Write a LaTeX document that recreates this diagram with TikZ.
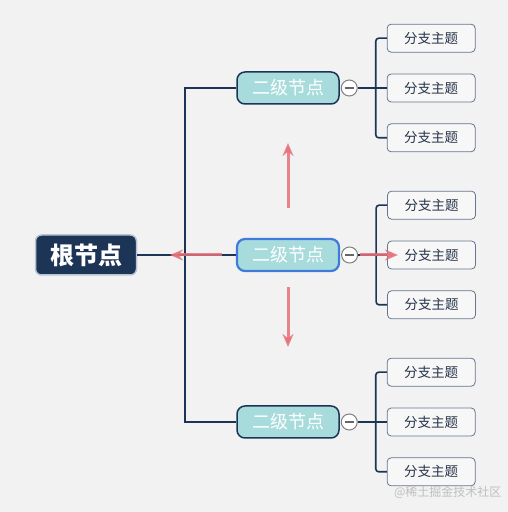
\documentclass[tikz,border=0pt]{standalone}
\usepackage{fontspec}
\setmainfont{Noto Sans CJK SC}
\usetikzlibrary{arrows.meta,positioning}
\definecolor{bgcol}{HTML}{F2F2F2}
\definecolor{navy}{HTML}{1C3557}
\definecolor{rootrim}{HTML}{B8C4D2}
\definecolor{tealfill}{HTML}{A8DCDC}
\definecolor{focus}{HTML}{3E7BDA}
\definecolor{leafrim}{HTML}{66758E}
\definecolor{leaftext}{HTML}{26344A}
\definecolor{arrowred}{HTML}{E8707A}
\tikzset{
  rootnode/.style={
    draw=rootrim,line width=1.5pt,fill=navy,rounded corners=6pt,
    minimum width=101pt,minimum height=40pt,text=white,
    font=\bfseries\fontsize{24}{26}\selectfont
  },
  subnode/.style={
    draw=navy,line width=1.5pt,fill=tealfill,rounded corners=8pt,
    minimum width=102pt,minimum height=32pt,text=white,
    font=\fontsize{18}{20}\selectfont
  },
  leafnode/.style={
    draw=leafrim,line width=0.8pt,fill=bgcol!60!white,rounded corners=4pt,
    minimum width=88pt,minimum height=28pt,text=leaftext,
    font=\fontsize{13.5}{15}\selectfont
  },
  fold/.style={
    circle,draw=gray,line width=1pt,fill=white,minimum size=16pt,inner sep=0pt,
    path picture={\draw[gray!80!black,line width=1.2pt]
      ([xshift=3.5pt]path picture bounding box.west) --
      ([xshift=-3.5pt]path picture bounding box.east);}
  },
  link/.style={draw=navy,line width=1.6pt},
  move/.style={draw=arrowred,opacity=0.85,line width=3pt,-{Stealth[length=13pt,width=11pt]}}
}
\begin{document}
\begin{tikzpicture}[x=1pt,y=1pt]
\fill[bgcol] (0,0) rectangle (508,512);
\useasboundingbox (0,0) rectangle (508,512);

\node[rootnode] (root) at (86,257) {根节点};
\node[subnode] (upper) at (288,424) {二级节点};
\node[subnode,draw=focus,line width=2.2pt] (middle) at (288,257) {二级节点};
\node[subnode] (lower) at (288,90) {二级节点};
\coordinate[right=48pt of root] (trunk);

\draw[link] (root) -- (middle);
\draw[link] (upper.west) -| (trunk) |- (lower.west);

\foreach \g in {upper,middle,lower} {
  \node[fold,right=1pt of \g] (\g fold) {};
  \coordinate[right=18pt of \g fold] (\g bus);
  \node[leafnode,right=11pt of \g bus] (\g 2) {分支主题};
  \node[leafnode,above=21pt of \g 2] (\g 1) {分支主题};
  \node[leafnode,below=21pt of \g 2] (\g 3) {分支主题};
  \draw[link] (\g fold) -- (\g bus);
  \draw[link,rounded corners=3pt] (\g 1.west) -| (\g bus) |- (\g 3.west);
  \draw[link] (\g bus) -- (\g 2.west);
}

% move hints
\coordinate (upfrom) at (288,304);
\coordinate (upto) at (288,369);
\coordinate (downfrom) at (288,225);
\coordinate (downto) at (288,165);
\coordinate (leftfrom) at (222,257);
\coordinate (leftto) at (170,257);
\coordinate (rightfrom) at (360,257);
\coordinate (rightto) at (398,257);
\draw[move] (upfrom) -- (upto);
\draw[move] (downfrom) -- (downto);
\draw[move] (leftfrom) -- (leftto);
\draw[move] (rightfrom) -- (rightto);

\node[anchor=east,text=gray!50,font=\fontsize{12}{14}\selectfont] (mark) at (505,20) {@稀土掘金技术社区};
\end{tikzpicture}
\end{document}
